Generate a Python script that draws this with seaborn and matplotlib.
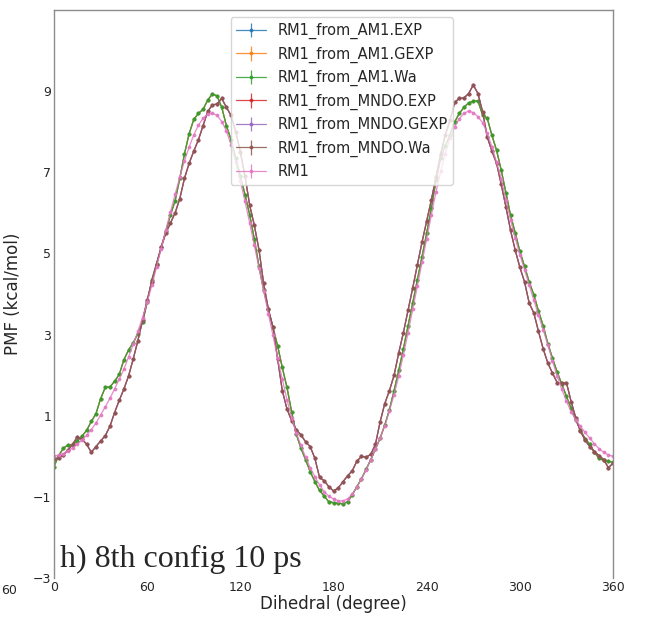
import numpy as np
import matplotlib
matplotlib.use("Agg")
from matplotlib import pyplot as plt
import seaborn as sns

# dihedral grid, one point every 3 degrees
dihedral = np.arange(0, 361, 3)

# RM1 (pink)
pmf_rm1 = [0.00, 0.04, 0.07, 0.13, 0.21, 0.30, 0.40, 0.52, 0.66, 0.82,
           1.02, 1.22, 1.43, 1.66, 1.90, 2.15, 2.45, 2.76, 3.08, 3.42,
           3.80, 4.22, 4.66, 5.12, 5.58, 6.02, 6.46, 6.88, 7.28, 7.62,
           7.92, 8.16, 8.33, 8.43, 8.46, 8.40, 8.25, 8.02, 7.68, 7.25,
           6.78, 6.28, 5.75, 5.20, 4.64, 4.08, 3.52, 2.98, 2.42, 1.90,
           1.40, 0.95, 0.58, 0.27, -0.02, -0.28, -0.50, -0.70, -0.87, -0.98,
           -1.05, -1.09, -1.10, -1.05, -0.93, -0.76, -0.55, -0.33, -0.08, 0.18,
           0.46, 0.76, 1.12, 1.52, 1.98, 2.50, 3.05, 3.62, 4.20, 4.78,
           5.36, 5.95, 6.52, 7.02, 7.46, 7.85, 8.12, 8.32, 8.45, 8.51,
           8.47, 8.37, 8.22, 7.96, 7.63, 7.25, 6.84, 6.32, 5.82, 5.38,
           4.97, 4.60, 4.22, 3.85, 3.48, 3.12, 2.75, 2.35, 1.98, 1.65,
           1.36, 1.10, 0.90, 0.74, 0.59, 0.45, 0.31, 0.19, 0.10, 0.04,
           0.00]

# RM1 from AM1 (Wa, EXP and GEXP lie on top of each other)
pmf_am1 = [-0.25, 0.02, 0.20, 0.28, 0.29, 0.38, 0.50, 0.64, 0.86, 1.05,
           1.42, 1.70, 1.71, 1.85, 2.02, 2.38, 2.62, 2.80, 3.02, 3.30,
           3.80, 4.35, 4.75, 5.15, 5.55, 5.95, 6.30, 6.85, 7.45, 7.95,
           8.30, 8.45, 8.55, 8.78, 8.93, 8.88, 8.60, 8.15, 7.80, 7.35,
           6.90, 6.45, 5.95, 5.35, 4.68, 4.10, 3.62, 3.18, 2.72, 2.19,
           1.70, 1.10, 0.55, 0.20, -0.08, -0.38, -0.62, -0.84, -0.98, -1.12,
           -1.14, -1.15, -1.17, -1.12, -0.95, -0.75, -0.55, -0.32, -0.08, 0.18,
           0.45, 0.77, 1.15, 1.62, 2.12, 2.65, 3.22, 3.78, 4.35, 4.92,
           5.50, 6.12, 6.80, 7.35, 7.65, 7.92, 8.24, 8.45, 8.60, 8.71,
           8.75, 8.76, 8.41, 8.33, 7.91, 7.54, 7.05, 6.50, 5.94, 5.51,
           5.05, 4.68, 4.30, 3.98, 3.58, 3.22, 2.78, 2.42, 2.08, 1.78,
           1.48, 1.18, 0.90, 0.64, 0.44, 0.30, 0.10, -0.05, -0.10, -0.12,
           -0.15]

# RM1 from MNDO (Wa, EXP and GEXP lie on top of each other)
pmf_mndo = [-0.07, -0.03, 0.04, 0.15, 0.30, 0.48, 0.42, 0.30, 0.10, 0.24,
            0.38, 0.51, 0.74, 1.08, 1.38, 1.66, 1.98, 2.40, 2.85, 3.35,
            3.85, 4.30, 4.72, 5.15, 5.50, 5.75, 6.00, 6.35, 6.85, 7.22,
            7.52, 7.80, 8.15, 8.50, 8.66, 8.68, 8.82, 8.60, 8.40, 8.00,
            7.50, 6.90, 6.19, 5.69, 5.09, 4.26, 3.63, 3.18, 2.40, 1.62,
            1.17, 0.88, 0.66, 0.53, 0.36, 0.24, -0.05, -0.52, -0.60, -0.75,
            -0.85, -0.78, -0.63, -0.48, -0.36, -0.12, 0.00, -0.02, 0.05, 0.30,
            0.85, 1.30, 1.62, 2.00, 2.55, 3.05, 3.60, 4.15, 4.72, 5.28,
            5.80, 6.32, 6.88, 7.45, 7.92, 8.28, 8.72, 8.82, 8.83, 8.94,
            9.15, 8.94, 8.49, 7.87, 7.52, 7.22, 6.70, 6.15, 5.57, 5.08,
            4.66, 4.30, 3.78, 3.53, 3.08, 2.65, 2.30, 2.05, 1.82, 1.80,
            1.82, 1.35, 0.95, 0.62, 0.40, 0.24, 0.12, 0.02, -0.08, -0.28,
            -0.17]

labels = ["RM1_from_AM1.EXP", "RM1_from_AM1.GEXP", "RM1_from_AM1.Wa",
          "RM1_from_MNDO.EXP", "RM1_from_MNDO.GEXP", "RM1_from_MNDO.Wa",
          "RM1"]
series = [pmf_am1, pmf_am1, pmf_am1, pmf_mndo, pmf_mndo, pmf_mndo, pmf_rm1]

xticks = [0, 60, 120, 180, 240, 300, 360]
yticks = [-3, -1, 1, 3, 5, 7, 9]

sns.set_theme(style="white")
colors = sns.color_palette("tab10", 7)

fig = plt.figure(figsize=(6.47, 6.19), dpi=100)
ax = fig.add_axes([0.0835, 0.066, 0.864, 0.918])

for lab, y, c in zip(labels, series, colors):
    ax.errorbar(dihedral, y, yerr=np.zeros(len(y)), color=c, label=lab,
                marker=".", markersize=3.5, linewidth=0.9, elinewidth=0.9,
                alpha=0.85)

ax.set_xlim(0, 360)
ax.set_ylim(-3, 11)
ax.set_xticks(xticks)
ax.set_yticks(yticks)

# no bottom frame line, the rest of the box in grey
ax.spines["bottom"].set_visible(False)
for s in ["top", "left", "right"]:
    ax.spines[s].set_visible(True)
    ax.spines[s].set_color("0.55")
    ax.spines[s].set_linewidth(1.0)
ax.xaxis.set_ticks_position("bottom")
ax.yaxis.set_ticks_position("left")

ax.tick_params(axis="both", labelsize=9, length=0, pad=2)
ax.set_xlabel("Dihedral (degree)", fontsize=12, labelpad=1)
ax.set_ylabel("PMF (kcal/mol)", fontsize=12, labelpad=8)

ax.legend(loc="upper center", fontsize=10.5, borderaxespad=0.5,
          bbox_to_anchor=(0.515, 1.0))

ax.text(0.011, 0.019, "h) 8th config 10 ps", transform=ax.transAxes,
        family="Liberation Serif", fontsize=23, va="baseline", ha="left")

# leftover tick label from the neighbouring panel
fig.text(1 / 647, 1 - 590 / 619, "60", fontsize=9, ha="left", va="center")

fig.savefig("out.png", dpi=100)
